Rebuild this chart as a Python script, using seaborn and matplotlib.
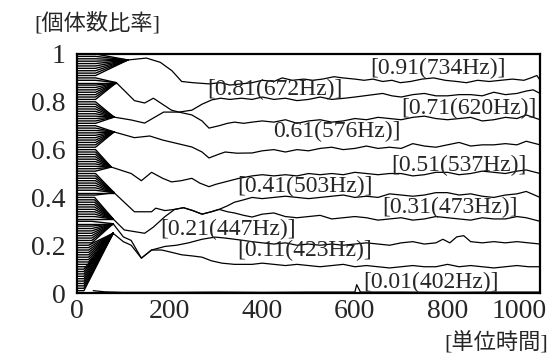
"""Ratio of individuals below each frequency threshold over time."""

import matplotlib
matplotlib.use("Agg")
import matplotlib.pyplot as plt
import matplotlib.transforms as mtransforms
import pandas as pd
import seaborn as sns

# threshold levels at time 0 (one dense line each)
LEVELS = [i / 100 for i in range(1, 101)]
# per block of ten dense lines: time the line leaves its level,
# and which labelled line it runs into
FLAT_END = [15, 25, 32, 38, 40, 40, 40, 40, 40, 40]
GROUP_TARGET = [1, 1, 2, 3, 4, 5, 6, 7, 8, 9]

LINE_NAMES = ["0.01", "0.11", "0.21", "0.31", "0.41",
              "0.51", "0.61", "0.71", "0.81", "0.91"]
LABELS = ["[0.01(402Hz)]", "[0.11(423Hz)]", "[0.21(447Hz)]", "[0.31(473Hz)]",
          "[0.41(503Hz)]", "[0.51(537Hz)]", "0.61(576Hz)]", "[0.71(620Hz)]",
          "[0.81(672Hz)]", "[0.91(734Hz)]"]
LABEL_T = [618, 346, 180, 660, 346, 678, 424, 700, 281, 634]
LABEL_V = [0.046, 0.18, 0.264, 0.356, 0.444, 0.535, 0.678, 0.774, 0.853, 0.94]

t01 = [35, 60, 100, 200, 300, 400, 500, 590, 600, 604, 612, 700, 800, 900, 1000]
v01 = [0.01, 0.005, 0.003, 0.003, 0.004, 0.003, 0.004, 0.004, 0.004, 0.035,
       0.004, 0.004, 0.003, 0.004, 0.004]

t11 = [78, 100, 117, 139, 161, 183, 205, 226, 250, 270, 290, 313, 340, 378,
       400, 425, 450, 475, 500, 525, 550, 575, 600, 625, 650, 675, 700, 725,
       750, 775, 800, 825, 850, 875, 900, 925, 950, 975, 1000]
v11 = [0.25, 0.215, 0.20, 0.146, 0.18, 0.18, 0.17, 0.16, 0.155, 0.15, 0.135,
       0.125, 0.12, 0.12, 0.125, 0.12, 0.115, 0.12, 0.115, 0.11, 0.115, 0.12,
       0.11, 0.115, 0.11, 0.105, 0.11, 0.115, 0.11, 0.11, 0.12, 0.11, 0.115,
       0.11, 0.105, 0.11, 0.115, 0.11, 0.11]

t21 = [78, 100, 117, 139, 161, 190, 215, 241, 270, 298, 320, 340, 360, 378,
       400, 425, 450, 475, 500, 525, 550, 575, 600, 625, 650, 675, 700, 725,
       750, 775, 790, 805, 820, 835, 850, 875, 900, 925, 950, 975, 1000]
v21 = [0.29, 0.235, 0.22, 0.146, 0.18, 0.195, 0.20, 0.21, 0.225, 0.234,
       0.23, 0.225, 0.22, 0.215, 0.21, 0.205, 0.21, 0.20, 0.205, 0.20, 0.205,
       0.20, 0.205, 0.21, 0.205, 0.20, 0.21, 0.215, 0.205, 0.21, 0.225, 0.21,
       0.235, 0.24, 0.215, 0.21, 0.215, 0.21, 0.215, 0.21, 0.205]

t31 = [78, 102, 146, 165, 190, 211, 230, 250, 270, 290, 307, 325, 340, 360,
       378, 400, 425, 450, 475, 500, 525, 550, 575, 600, 625, 650, 675, 700,
       725, 750, 775, 800, 825, 850, 875, 900, 925, 950, 970, 1000]
v31 = [0.31, 0.264, 0.25, 0.276, 0.32, 0.35, 0.357, 0.345, 0.33, 0.34, 0.35,
       0.34, 0.335, 0.325, 0.318, 0.33, 0.335, 0.32, 0.315, 0.32, 0.325, 0.31,
       0.315, 0.32, 0.315, 0.305, 0.31, 0.315, 0.305, 0.31, 0.32, 0.315, 0.31,
       0.305, 0.315, 0.31, 0.31, 0.32, 0.315, 0.30]

t41 = [80, 124, 161, 170, 190, 211, 230, 250, 270, 290, 307, 325, 340, 360,
       378, 400, 425, 450, 475, 500, 525, 550, 575, 600, 625, 650, 675, 700,
       725, 750, 775, 800, 825, 850, 875, 900, 925, 950, 970, 1000]
v41 = [0.42, 0.34, 0.34, 0.355, 0.345, 0.35, 0.357, 0.345, 0.33, 0.34, 0.35,
       0.365, 0.38, 0.39, 0.40, 0.395, 0.40, 0.405, 0.40, 0.395, 0.40, 0.405,
       0.41, 0.40, 0.405, 0.40, 0.415, 0.41, 0.405, 0.41, 0.42, 0.42, 0.41,
       0.415, 0.405, 0.40, 0.41, 0.415, 0.425, 0.40]

t51 = [74, 117, 139, 161, 185, 204, 225, 248, 265, 285, 300, 320, 350, 378,
       400, 425, 450, 475, 500, 525, 550, 575, 600, 625, 650, 675, 700, 725,
       750, 775, 800, 825, 850, 875, 900, 925, 950, 970, 1000]
v51 = [0.527, 0.50, 0.47, 0.505, 0.48, 0.465, 0.47, 0.48, 0.46, 0.445, 0.455,
       0.465, 0.48, 0.49, 0.495, 0.49, 0.495, 0.49, 0.50, 0.495, 0.50, 0.495,
       0.505, 0.50, 0.495, 0.50, 0.50, 0.49, 0.495, 0.505, 0.505, 0.495, 0.50,
       0.51, 0.505, 0.50, 0.51, 0.515, 0.50]

t61 = [80, 124, 157, 185, 211, 248, 270, 285, 305, 320, 345, 378, 400, 425,
       450, 475, 500, 525, 550, 575, 600, 625, 650, 675, 700, 725, 750, 775,
       800, 825, 850, 875, 900, 925, 950, 970, 1000]
v61 = [0.674, 0.65, 0.657, 0.64, 0.628, 0.611, 0.59, 0.565, 0.58, 0.59,
       0.585, 0.586, 0.595, 0.60, 0.59, 0.60, 0.595, 0.605, 0.61, 0.60, 0.605,
       0.615, 0.605, 0.61, 0.605, 0.625, 0.615, 0.61, 0.62, 0.63, 0.615, 0.62,
       0.62, 0.625, 0.62, 0.635, 0.62]

t71 = [80, 117, 146, 187, 220, 248, 270, 285, 307, 325, 340, 360, 378, 400,
       425, 450, 475, 500, 525, 550, 575, 600, 625, 650, 675, 700, 725, 750,
       775, 800, 825, 850, 875, 900, 925, 950, 970, 1000]
v71 = [0.736, 0.724, 0.711, 0.757, 0.757, 0.745, 0.72, 0.69, 0.70, 0.71,
       0.715, 0.71, 0.715, 0.72, 0.715, 0.725, 0.71, 0.72, 0.725, 0.715, 0.72,
       0.73, 0.725, 0.735, 0.73, 0.725, 0.735, 0.74, 0.73, 0.725, 0.73, 0.735,
       0.72, 0.725, 0.735, 0.73, 0.745, 0.725]

t81 = [85, 124, 146, 165, 204, 220, 248, 270, 291, 310, 330, 355, 378, 400,
       425, 450, 475, 500, 525, 550, 578, 600, 620, 640, 660, 680, 700, 725,
       750, 775, 800, 825, 850, 875, 900, 925, 950, 970, 985, 1000]
v81 = [0.88, 0.805, 0.795, 0.815, 0.765, 0.757, 0.765, 0.79, 0.808, 0.815,
       0.81, 0.815, 0.81, 0.82, 0.81, 0.815, 0.805, 0.81, 0.82, 0.81, 0.815,
       0.82, 0.825, 0.83, 0.835, 0.825, 0.82, 0.83, 0.835, 0.825, 0.825, 0.83,
       0.83, 0.825, 0.84, 0.83, 0.835, 0.845, 0.85, 0.835]

t91 = [110, 150, 180, 205, 226, 250, 285, 310, 330, 355, 378, 400, 425, 443,
       465, 490, 509, 530, 555, 574, 600, 620, 639, 660, 680, 698, 720, 745,
       770, 795, 820, 841, 865, 890, 915, 940, 965, 980, 993, 1000]
v91 = [0.975, 0.983, 0.965, 0.93, 0.885, 0.88, 0.875, 0.88, 0.87, 0.875,
       0.88, 0.89, 0.885, 0.90, 0.89, 0.895, 0.89, 0.895, 0.905, 0.90, 0.895,
       0.89, 0.895, 0.885, 0.89, 0.88, 0.885, 0.895, 0.90, 0.89, 0.885, 0.88,
       0.89, 0.885, 0.89, 0.895, 0.89, 0.90, 0.91, 0.89]

TIMES = [t01, t11, t21, t31, t41, t51, t61, t71, t81, t91]
VALUES = [v01, v11, v21, v31, v41, v51, v61, v71, v81, v91]


def build_frames() -> tuple[pd.DataFrame, pd.DataFrame]:
    dense, main = [], []
    # start-up lines: flat at their level, then into their group's line
    for i, level in enumerate(LEVELS):
        block = min(i // 10, len(GROUP_TARGET) - 1)
        g = GROUP_TARGET[block]
        name = f"d{i}"
        dense.append((name, 0, level))
        dense.append((name, FLAT_END[block], level))
        dense.append((name, TIMES[g][0], VALUES[g][0]))
    for name, ts, vs in zip(LINE_NAMES, TIMES, VALUES):
        for t, v in zip(ts, vs):
            main.append((name, t, v))
    cols = ["line", "time", "ratio"]
    return pd.DataFrame(dense, columns=cols), pd.DataFrame(main, columns=cols)


sns.set_style("white")
plt.rcParams["font.family"] = ["Liberation Serif", "Noto Sans CJK JP"]

dense_df, main_df = build_frames()
fig = plt.figure(figsize=(5.6, 3.6), dpi=100)
ax = fig.add_axes([0.1375, 0.186, 0.827, 0.664])

sns.lineplot(data=dense_df, x="time", y="ratio", units="line", estimator=None,
             color="black", linewidth=1.0, sort=False, ax=ax, legend=False)
sns.lineplot(data=main_df, x="time", y="ratio", units="line", estimator=None,
             color="black", linewidth=0.9, sort=False, ax=ax, legend=False)

for text, t, v in zip(LABELS, LABEL_T, LABEL_V):
    ax.text(t, v, text, ha="left", va="center", fontsize=17)

ax.set_xlim(0, 1000)
ax.set_ylim(0, 1)
ax.set_xticks([0, 200, 400, 600, 800, 1000])
ax.set_yticks([0, 0.2, 0.4, 0.6, 0.8, 1])
ax.set_yticklabels(["0", "0.2", "0.4", "0.6", "0.8", "1"])
ax.tick_params(axis="x", direction="in", length=5, width=1.2,
               labelsize=20, pad=4)
ax.tick_params(axis="y", length=0, labelsize=20, pad=8)
ax.set_xlabel("")
ax.set_ylabel("")
for spine in ax.spines.values():
    spine.set_linewidth(1.6)
    spine.set_color("black")

# last tick label is pulled in so it stays inside the figure
last = ax.get_xticklabels()[-1]
last.set_horizontalalignment("right")
last.set_transform(last.get_transform() +
                   mtransforms.ScaledTranslation(0.07, 0, fig.dpi_scale_trans))

fig.text(0.062, 0.936, "[個体数比率]", ha="left", va="center", fontsize=16)
fig.text(0.979, 0.047, "[単位時間]", ha="right", va="center", fontsize=16)

fig.savefig("out.png", dpi=100)
plt.close(fig)
